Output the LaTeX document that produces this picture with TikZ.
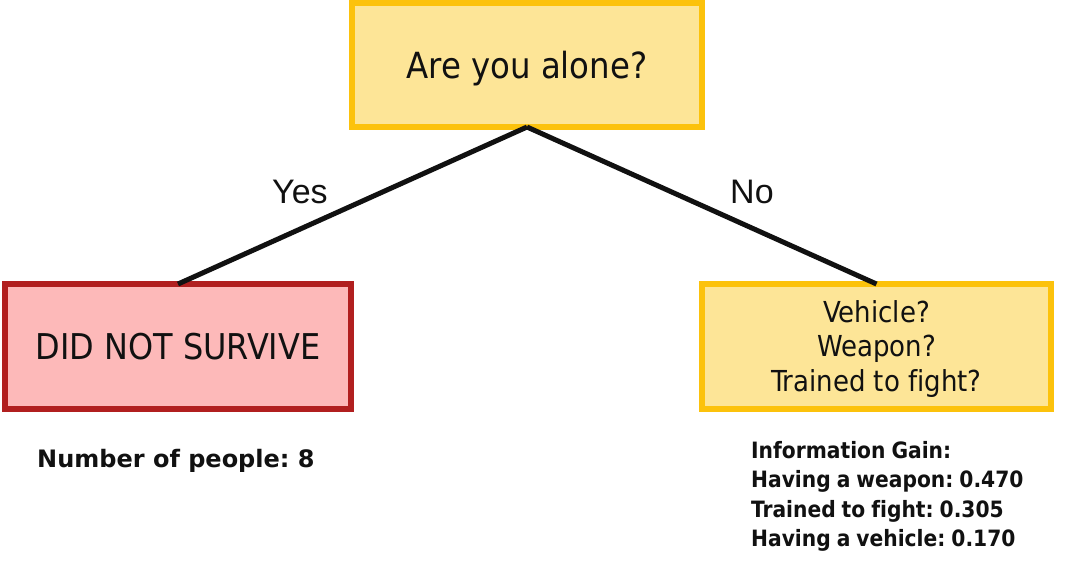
\documentclass[tikz,border=0pt]{standalone}
\usepackage{fontspec}
\setmainfont{DejaVu Sans Condensed}[Ligatures=NoCommon]
\newfontfamily\labelfont{Liberation Sans}
\newfontfamily\widefont{DejaVu Sans}[Ligatures=NoCommon]
\newfontfamily\infofont{DejaVu Sans Condensed}[Ligatures=NoCommon, WordSpace=0.85]
\frenchspacing
\definecolor{ybord}{HTML}{FCC20C}
\definecolor{yfill}{HTML}{FDE597}
\definecolor{rbord}{HTML}{B11F1F}
\definecolor{rfill}{HTML}{FDB9B9}
\definecolor{ink}{HTML}{111111}
\begin{document}
\begin{tikzpicture}[x=1pt,y=-1pt,
  boxbase/.style={line width=6pt, inner sep=0pt, outer sep=0pt, text=ink, align=center},
  ybox/.style={boxbase, draw=ybord, fill=yfill},
  rbox/.style={boxbase, draw=rbord, fill=rfill},
  edge/.style={line width=5pt, draw=ink},
  elabel/.style={font=\labelfont\fontsize{34}{40}\selectfont, text=ink, inner sep=0pt, anchor=base west},
  info/.style={font=\infofont\bfseries\fontsize{22.5}{29.5}\selectfont, text=ink, inner sep=0pt, align=left}
]
\useasboundingbox (0,0) rectangle (1084,571);
\fill[white] (0,0) rectangle (1084,571);
\node[ybox, minimum width=350pt, minimum height=124pt, font=\fontsize{36}{40}\selectfont, text depth=0pt] (top) at (527,65) {Are you alone?};
\node[rbox, minimum width=346pt, minimum height=125pt, font=\fontsize{35.5}{40}\selectfont] (left) at (178,346.5) {DID NOT SURVIVE};
\node[ybox, minimum width=349pt, minimum height=125pt, font=\fontsize{28.9}{34.5}\selectfont, text depth=1pt] (right) at (876.5,346.5) {Vehicle?\\Weapon?\\Trained to fight?};
\draw[edge] (top.south) -- (left.north);
\draw[edge] (top.south) -- (right.north);
\node[elabel] (yes) at (272,203) {Yes};
\node[elabel] (no) at (730,203) {No};
\node[info, font=\widefont\bfseries\fontsize{24}{29.5}\selectfont, anchor=base west] (people) at (37,467) {Number of people: 8};
\node[info, anchor=north west] (gain) at (751,441) {Information Gain:\\Having a weapon: 0.470\\Trained to fight: 0.305\\Having a vehicle: 0.170};
\end{tikzpicture}
\end{document}
